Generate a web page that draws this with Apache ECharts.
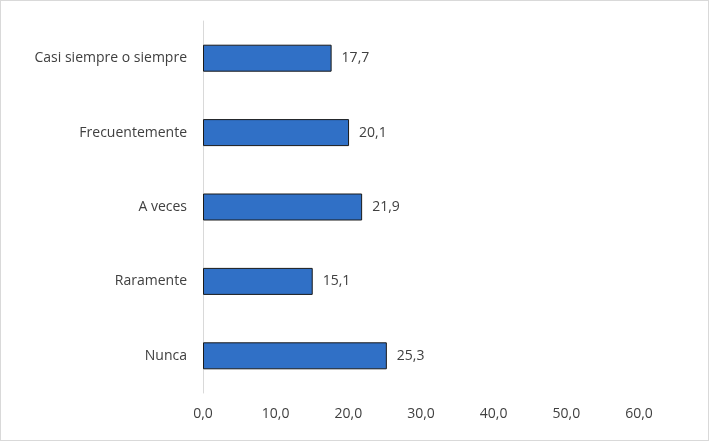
<!DOCTYPE html>
<html>
<head>
<meta charset="utf-8">
<script src="https://cdn.jsdelivr.net/npm/echarts@6/dist/echarts.min.js"></script>
<style>
  html, body { margin: 0; padding: 0; background: #fff; }
  #chart { width: 707px; height: 439px; border: 1px solid #d9d9d9; }
</style>
</head>
<body>
<div id="chart"></div>
<script>
// categories bottom to top
const categories = ["Nunca", "Raramente", "A veces", "Frecuentemente", "Casi siempre o siempre"];
const values = [25.3, 15.1, 21.9, 20.1, 17.7];
const xTicks = [0, 10, 20, 30, 40, 50, 60];

const fmt = v => v.toFixed(1).replace(".", ",");

const myChart = echarts.init(document.getElementById("chart"));
const option = {
  animation: false,
  textStyle: { fontFamily: "Open Sans, sans-serif" },
  grid: { left: 202, right: 69, top: 20, bottom: 47 },
  xAxis: {
    type: "value",
    min: xTicks[0],
    max: xTicks[xTicks.length - 1],
    interval: 10,
    splitLine: { show: false },
    axisLine: { show: false },
    axisTick: { show: false },
    axisLabel: { color: "#404040", fontSize: 14, margin: 14, formatter: v => fmt(v) },
  },
  yAxis: {
    type: "category",
    data: categories,
    axisLine: { show: true, lineStyle: { color: "#d9d9d9" } },
    axisTick: { show: false },
    axisLabel: { color: "#404040", fontSize: 14, margin: 16 },
  },
  series: [
    {
      type: "bar",
      data: values,
      barWidth: 27,
      itemStyle: { color: "#3070c6", borderColor: "#1a1a1a", borderWidth: 1 },
      label: {
        show: true,
        position: "right",
        distance: 10,
        color: "#404040",
        fontSize: 14,
        formatter: p => fmt(p.value),
      },
    },
  ],
};
myChart.setOption(option);
</script>
</body>
</html>
